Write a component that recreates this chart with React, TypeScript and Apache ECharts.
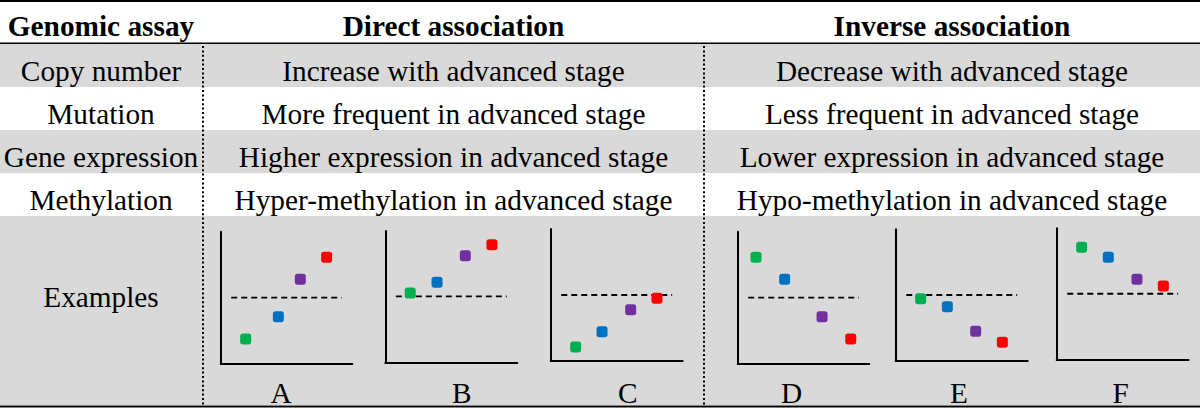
import React, { useEffect, useRef } from "react";
import * as echarts from "echarts";

// ---------- data ----------
const columnHeaders = ["Genomic assay", "Direct association", "Inverse association"];
const assays = ["Copy number", "Mutation", "Gene expression", "Methylation", "Examples"];
const directTexts = [
  "Increase with advanced stage",
  "More frequent in advanced stage",
  "Higher expression in advanced stage",
  "Hyper-methylation in advanced stage",
];
const inverseTexts = [
  "Decrease with advanced stage",
  "Less frequent in advanced stage",
  "Lower expression in advanced stage",
  "Hypo-methylation in advanced stage",
];
const panelLabels = ["A", "B", "C", "D", "E", "F"];
const stageColors = ["#00b050", "#0070c0", "#7030a0", "#ff0000"];
const panelX = [
  [1.9, 4.38, 6.05, 8.05],
  [1.89, 3.92, 6.06, 8.08],
  [1.89, 3.89, 6.06, 8.05],
  [1.39, 3.57, 6.41, 8.59],
  [1.89, 3.91, 6.06, 8.08],
  [1.89, 3.91, 6.08, 8.08],
];
const panelY = [
  [1.89, 3.58, 6.4, 8.07],
  [5.29, 6.1, 8.12, 8.96],
  [1.04, 2.2, 3.87, 4.74],
  [8.07, 6.4, 3.58, 1.89],
  [4.72, 4.11, 2.24, 1.4],
  [8.56, 7.8, 6.13, 5.62],
];
const thresholds = [5.01, 5.04, 4.99, 5.01, 5.0, 5.03];
const thresholdSpan = [0.8, 9.2];

// ---------- layout ----------
const W = 1200;
const H = 409;
const FONT = "'Liberation Serif', 'Times New Roman', serif";
const FS = 29.3;
const GRAY = "#d9d9d9";
const rowTops = [44, 87, 130, 173, 216];
const rowBottoms = [87, 130, 173, 216, 405];
const colCenters = [101, 453.5, 952];
const dividerX = [203, 704];
const grids = [
  { left: 220.7, top: 231.7, width: 131.6, height: 132.3 },
  { left: 385.3, top: 231, width: 132, height: 131.7 },
  { left: 550.7, top: 229, width: 132, height: 131.7 },
  { left: 737.7, top: 231.7, width: 131.6, height: 132.3 },
  { left: 895.7, top: 229.3, width: 132, height: 131.4 },
  { left: 1056.7, top: 228.3, width: 132, height: 131.7 },
];
const labelCenters = [281, 461.7, 627.7, 791.7, 959, 1120.7];
const labelY = 393;

function txt(x: number, y: number, s: string, bold = false) {
  return {
    type: "text",
    x,
    y,
    z: 5,
    style: {
      text: s,
      fill: "#000",
      font: `${bold ? "bold " : ""}${FS}px ${FONT}`,
      align: "center",
      verticalAlign: "middle",
    },
  };
}

export default function App() {
  const ref = useRef<HTMLDivElement>(null);
  useEffect(() => {
    document.body.style.margin = "0";
    const chart = echarts.init(ref.current!, null, { renderer: "svg" });
    const graphic: any[] = [];
    // backgrounds
    graphic.push({ type: "rect", z: -5, shape: { x: 0, y: 0, width: W, height: H }, style: { fill: "#fff" } });
    [0, 2, 4].forEach((r) => {
      graphic.push({
        type: "rect",
        z: -4,
        shape: { x: 0, y: rowTops[r], width: W, height: rowBottoms[r] - rowTops[r] },
        style: { fill: GRAY },
      });
    });
    // rules
    graphic.push({ type: "rect", z: 1, shape: { x: 0, y: 0, width: W, height: 2 }, style: { fill: "#000" } });
    graphic.push({ type: "rect", z: 1, shape: { x: 0, y: 42.5, width: W, height: 1.5 }, style: { fill: "#000" } });
    graphic.push({ type: "rect", z: 1, shape: { x: 0, y: 405.5, width: W, height: 2 }, style: { fill: "#000" } });
    dividerX.forEach((x) => {
      graphic.push({
        type: "line",
        z: 1,
        shape: { x1: x, y1: 46, x2: x, y2: 405 },
        style: { stroke: "#000", lineWidth: 2, lineDash: [2, 2.4] },
      });
    });
    // header
    columnHeaders.forEach((h, i) => graphic.push(txt(colCenters[i], 26, h, true)));
    // rows
    assays.forEach((a, r) => {
      const cy = r < 4 ? (rowTops[r] + rowBottoms[r]) / 2 + 5 : 297;
      graphic.push(txt(colCenters[0], cy, a));
      if (r < 4) {
        graphic.push(txt(colCenters[1], cy, directTexts[r]));
        graphic.push(txt(colCenters[2], cy, inverseTexts[r]));
      }
    });
    panelLabels.forEach((l, i) => graphic.push(txt(labelCenters[i], labelY, l)));

    const axisCommon = {
      min: 0,
      max: 10,
      z: 3,
      axisLine: { show: true, onZero: false, lineStyle: { color: "#000", width: 2 } },
      axisTick: { show: false },
      axisLabel: { show: false },
      splitLine: { show: false },
    };
    const series: any[] = [];
    panelLabels.forEach((_, i) => {
      series.push({
        type: "line",
        xAxisIndex: i,
        yAxisIndex: i,
        data: [
          [thresholdSpan[0], thresholds[i]],
          [thresholdSpan[1], thresholds[i]],
        ],
        symbol: "none",
        lineStyle: { color: "#000", width: 1.8, type: [6, 4] },
        z: 3,
      });
      series.push({
        type: "scatter",
        xAxisIndex: i,
        yAxisIndex: i,
        symbol: "roundRect",
        symbolSize: 11,
        data: panelX[i].map((x, k) => ({
          value: [x, panelY[i][k]],
          itemStyle: { color: stageColors[k], opacity: 1 },
        })),
        z: 4,
      });
    });

    chart.setOption({
      animation: false,
      grid: grids.map((g) => ({ ...g, containLabel: false })),
      xAxis: grids.map((_, i) => ({ ...axisCommon, type: "value", gridIndex: i, position: "bottom" })),
      yAxis: grids.map((_, i) => ({ ...axisCommon, type: "value", gridIndex: i, position: "left" })),
      series,
      graphic,
    });
    return () => chart.dispose();
  }, []);
  return <div ref={ref} style={{ width: W, height: H }} />;
}
